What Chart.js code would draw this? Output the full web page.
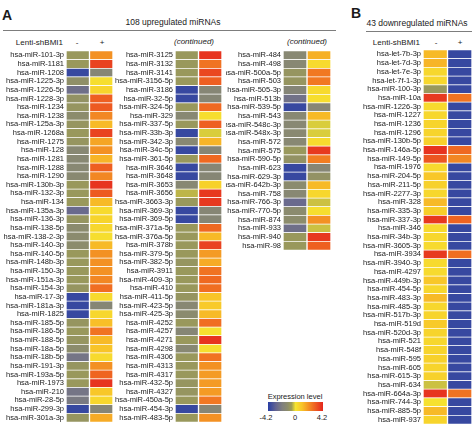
<!DOCTYPE html>
<html>
<head>
<meta charset="utf-8">
<script src="https://cdn.jsdelivr.net/npm/chart.js@4.4.1/dist/chart.umd.min.js"></script>
<style>
  body { margin: 0; background: #fff; }
  #fig { position: relative; width: 474px; height: 432px; overflow: hidden;
         font-family: "Liberation Sans", Arial, sans-serif; color: #1a1a1a; }
  #fig canvas { position: absolute; }
  .t { position: absolute; line-height: 1; white-space: nowrap; }
  .c { text-align: center; }
  .r { text-align: right; }
  .rule { position: absolute; height: 1.5px; background: #7d7d7d; }
</style>
</head>
<body>
<div id="fig">
  <div class="t" style="left:2px;top:8px;font-size:14px;font-weight:bold">A</div>
  <div class="t c" style="left:73px;top:18px;width:200px;font-size:8.5px">108 upregulated miRNAs</div>
  <div class="rule" style="left:3px;top:29.5px;width:333px"></div>
  <div class="t c" style="left:144px;top:37.5px;width:100px;font-size:8px;font-style:italic">(continued)</div>
  <div class="t c" style="left:257px;top:37.5px;width:100px;font-size:8px;font-style:italic">(continued)</div>
  <div class="t r" style="left:0;top:39px;width:63px;font-size:8px">Lenti-shBMI1</div>
  <div class="t c" style="left:67px;top:38.5px;width:20px;font-size:8px">-</div>
  <div class="t c" style="left:92px;top:38.5px;width:20px;font-size:8px">+</div>

  <div class="t" style="left:351px;top:6px;font-size:14px;font-weight:bold">B</div>
  <div class="t c" style="left:317px;top:19px;width:200px;font-size:8.5px">43 downregulated miRNAs</div>
  <div class="rule" style="left:366px;top:30.5px;width:106px"></div>
  <div class="t r" style="left:320px;top:39px;width:100px;font-size:8px">Lenti-shBMI1</div>
  <div class="t c" style="left:426px;top:38.5px;width:20px;font-size:8px">-</div>
  <div class="t c" style="left:450px;top:38.5px;width:20px;font-size:8px">+</div>

  <div class="t c" style="left:245px;top:392.5px;width:100px;font-size:7.5px">Expression level</div>
  <div id="scaleBar" style="position:absolute;left:268px;top:402px;width:55px;height:9px"></div>
  <div class="t c" style="left:251px;top:414px;width:30px;font-size:7.5px">-4.2</div>
  <div class="t c" style="left:280px;top:414px;width:30px;font-size:7.5px">0</div>
  <div class="t c" style="left:307px;top:414px;width:30px;font-size:7.5px">4.2</div>

  <canvas id="colA1" width="113" height="371" style="left:0;top:51px"></canvas>
  <canvas id="colA2" width="108" height="371" style="left:114px;top:51px"></canvas>
  <canvas id="colA3" width="105" height="199" style="left:226px;top:51px"></canvas>
  <canvas id="colB" width="132" height="374" style="left:340px;top:50px"></canvas>
</div>

<script>
// 108 upregulated miRNAs (three columns)
const namesA1 = ["hsa-miR-101-3p", "hsa-miR-1181", "hsa-miR-1208", "hsa-miR-1225-3p", "hsa-miR-1226-5p",
  "hsa-miR-1228-3p", "hsa-miR-1234", "hsa-miR-1238", "hsa-miR-125a-3p", "hsa-miR-1268a", "hsa-miR-1275",
  "hsa-miR-128", "hsa-miR-1281", "hsa-miR-1288", "hsa-miR-1290", "hsa-miR-130b-3p", "hsa-miR-132-3p",
  "hsa-miR-134", "hsa-miR-135a-3p", "hsa-miR-136-3p", "hsa-miR-138-5p", "hsa-miR-138-2-3p", "hsa-miR-140-3p",
  "hsa-miR-140-5p", "hsa-miR-148b-3p", "hsa-miR-150-3p", "hsa-miR-151a-3p", "hsa-miR-154-3p", "hsa-miR-17-3p",
  "hsa-miR-181a-3p", "hsa-miR-1825", "hsa-miR-185-5p", "hsa-miR-186-5p", "hsa-miR-188-5p", "hsa-miR-18a-5p",
  "hsa-miR-18b-5p", "hsa-miR-191-3p", "hsa-miR-193a-5p", "hsa-miR-1973", "hsa-miR-210", "hsa-miR-28-5p",
  "hsa-miR-299-3p", "hsa-miR-301a-3p"];
const minusA1 = [-0.8, -0.8, -3.9, -1.1, -2.6, -1.0, -0.9, -1.2, -0.9, -0.8, -0.9,
  -1.5, -1.5, -1.5, -1.4, -0.8, -0.8, -0.8, -2.8, -0.9, -1.3, -1.3, -1.2, -0.8, -0.8, -0.8, -0.8,
  -0.9, -3.9, -3.9, -3.9, -0.9, -0.8, -0.9, -1.2, -2.4, -0.9, -0.8, -0.8, -2.4, -2.2, -3.9, -0.9];
const plusA1 = [2.0, 3.6, -1.6, 0.2, 0.5, 3.0, 3.1, 2.2, 1.2, 3.6, 1.6,
  2.0, 1.3, 3.0, 2.2, 3.9, 3.1, 1.2, 0.3, 0.5, 0.4, 0.2, 1.2, 2.0, 2.0, 2.0, 2.2,
  2.7, 0.3, -1.6, 0.4, 1.1, 2.6, 1.2, 1.0, 0.3, 2.0, 2.9, 3.9, 0.9, 0.4, -1.7, 1.5];

const namesA2 = ["hsa-miR-3125", "hsa-miR-3132", "hsa-miR-3141", "hsa-miR-3156-5p", "hsa-miR-3186",
  "hsa-miR-32-5p", "hsa-miR-324-5p", "hsa-miR-329", "hsa-miR-337-5p", "hsa-miR-33b-3p", "hsa-miR-342-3p",
  "hsa-miR-34c-5p", "hsa-miR-361-5p", "hsa-miR-3646", "hsa-miR-3648", "hsa-miR-3653", "hsa-miR-3656",
  "hsa-miR-3663-3p", "hsa-miR-369-3p", "hsa-miR-369-5p", "hsa-miR-371a-5p", "hsa-miR-376a-5p", "hsa-miR-378b",
  "hsa-miR-379-5p", "hsa-miR-382-5p", "hsa-miR-3911", "hsa-miR-409-3p", "hsa-miR-410", "hsa-miR-411-5p",
  "hsa-miR-423-5p", "hsa-miR-425-3p", "hsa-miR-4252", "hsa-miR-4257", "hsa-miR-4271", "hsa-miR-4298",
  "hsa-miR-4306", "hsa-miR-4313", "hsa-miR-4317", "hsa-miR-432-5p", "hsa-miR-4327", "hsa-miR-450a-5p",
  "hsa-miR-454-3p", "hsa-miR-483-5p"];
const minusA2 = [-0.8, -0.8, -0.8, -0.8, -3.9, -3.9, -0.8, -1.5, -0.8, -3.9, -1.5,
  -3.9, -0.8, -3.9, -3.9, -1.5, -0.4, -0.8, -3.9, -3.9, -0.8, -0.8, -0.8, -0.8, -0.9, -0.8, -0.8,
  -0.8, -0.9, -1.5, -1.3, -0.8, -1.6, -0.8, -1.5, -0.8, -0.8, -0.8, -0.9, -0.9, -0.8, -3.9, -0.8];
const plusA2 = [3.9, 2.6, 3.5, 3.0, -1.6, -1.6, 2.8, 0.2, 3.0, -0.2, 1.3,
  -1.6, 2.8, -1.6, -1.6, 0.6, 3.8, 3.8, -1.6, -1.6, 2.8, 1.2, 3.6, 1.8, 1.5, 2.6, 2.8,
  2.7, 1.0, 0.8, 1.2, 2.7, 0.1, 3.9, 0.2, 2.6, 2.0, 1.8, 1.8, 1.8, 2.5, -1.6, 2.0];

const namesA3 = ["hsa-miR-484", "hsa-miR-498", "hsa-miR-500a-5p", "hsa-miR-503", "hsa-miR-505-3p",
  "hsa-miR-513b", "hsa-miR-539-5p", "hsa-miR-543", "hsa-miR-548c-3p", "hsa-miR-548x-3p", "hsa-miR-572",
  "hsa-miR-575", "hsa-miR-590-5p", "hsa-miR-623", "hsa-miR-629-3p", "hsa-miR-642b-3p", "hsa-miR-758",
  "hsa-miR-766-3p", "hsa-miR-770-5p", "hsa-miR-874", "hsa-miR-933", "hsa-miR-940", "hsa-miR-98"];
const minusA3 = [-1.5, -1.5, -0.9, -0.9, -1.7, -2.5, -3.9, -1.5, -1.5, -1.4, -1.5,
  -0.8, -1.0, -3.9, -3.9, -1.3, -1.5, -2.8, -1.3, -1.2, -2.6, -0.8, -0.8];
const plusA3 = [1.4, 0.3, 2.5, 2.5, 0.3, 0.2, -1.6, 1.2, -0.2, -0.2, 0.3,
  3.8, 2.4, -1.6, -1.0, 1.2, 0.4, -0.3, 0.2, 2.0, -0.3, 3.8, 3.0];

// 43 downregulated miRNAs
const namesB = ["hsa-let-7b-3p", "hsa-let-7d-3p", "hsa-let-7e-3p", "hsa-let-7f-1-3p", "hsa-miR-100-3p",
  "hsa-miR-10a", "hsa-miR-1226-3p", "hsa-miR-1227", "hsa-miR-1236", "hsa-miR-1296", "hsa-miR-130b-5p",
  "hsa-miR-146a-5p", "hsa-miR-149-5p", "hsa-miR-1976", "hsa-miR-204-5p", "hsa-miR-211-5p", "hsa-miR-2277-3p",
  "hsa-miR-328", "hsa-miR-335-3p", "hsa-miR-337-3p", "hsa-miR-346", "hsa-miR-34b-3p", "hsa-miR-3605-3p",
  "hsa-miR-3934", "hsa-miR-3940-3p", "hsa-miR-4297", "hsa-miR-449b-3p", "hsa-miR-454-5p", "hsa-miR-483-3p",
  "hsa-miR-485-3p", "hsa-miR-517b-3p", "hsa-miR-519d", "hsa-miR-520d-3p", "hsa-miR-521", "hsa-miR-548f",
  "hsa-miR-595", "hsa-miR-605", "hsa-miR-615-3p", "hsa-miR-634", "hsa-miR-664a-3p", "hsa-miR-744-3p",
  "hsa-miR-885-5p", "hsa-miR-937"];
const minusB = [1.2, 1.3, 0.4, 0.4, -0.8, 3.8, 0.3, 0.4, 0.5, 0.5, 0.6,
  3.9, 3.2, 0.3, 0.9, 0.6, 0.4, 1.2, 0.7, 3.8, 0.3, 0.4, 0.3, 3.8, 0.3, 0.3,
  0.9, 0.4, 1.2, 0.4, 0.5, 0.8, 0.5, 0.4, 0.5, 0.6, 0.5, 0.6, -0.3, 3.9, 0.1, 1.2, 0.5];
const plusB = [-3.9, -3.9, -3.9, -3.9, -3.9, 2.6, -3.9, -3.9, -3.9, -3.9, -3.9,
  2.8, 2.2, -3.9, -3.9, -3.9, -3.9, -3.9, -3.9, 2.9, -3.9, -3.9, -3.9, 2.7, -3.9, -3.9,
  -3.9, -3.9, -3.9, -3.9, -3.9, -3.9, -3.9, -3.9, -3.9, -3.9, -3.9, -3.9, -3.9, 2.6, -3.9, -3.9, -3.9];

// colour scale, -4.2 (blue) .. 0 (yellow) .. 4.2 (red)
const colorStops = [
  [-4.2, [40, 62, 165]], [-3.0, [100, 100, 145]], [-2.0, [128, 128, 126]],
  [-1.2, [140, 140, 108]], [-0.6, [160, 158, 84]], [0, [246, 228, 48]],
  [1.0, [248, 196, 40]], [2.0, [243, 145, 35]], [3.0, [238, 95, 33]], [4.2, [228, 38, 30]],
];

function colorFor(v) {
  if (v <= colorStops[0][0]) return `rgb(${colorStops[0][1].join(",")})`;
  for (let i = 1; i < colorStops.length; i++) {
    const [v1, c1] = colorStops[i];
    if (v <= v1) {
      const [v0, c0] = colorStops[i - 1];
      const t = (v - v0) / (v1 - v0);
      const c = c0.map((a, k) => Math.round(a + (c1[k] - a) * t));
      return `rgb(${c.join(",")})`;
    }
  }
  return `rgb(${colorStops[colorStops.length - 1][1].join(",")})`;
}

// legend bar
document.getElementById("scaleBar").style.background =
  "linear-gradient(to right, " +
  colorStops.map(([v, c]) => `rgb(${c.join(",")}) ${((v + 4.2) / 8.4) * 100}%`).join(", ") + ")";

function heatColumn(id, names, minus, plus, axisWidth) {
  new Chart(document.getElementById(id), {
    type: "bar",
    data: {
      labels: names,
      datasets: [
        { label: "-", data: minus.map(() => [0, 1]), backgroundColor: minus.map(colorFor) },
        { label: "+", data: plus.map(() => [1, 2]), backgroundColor: plus.map(colorFor) },
      ],
    },
    options: {
      indexAxis: "y",
      responsive: false,
      animation: false,
      grouped: false,
      datasets: {
        bar: {
          grouped: false,
          barPercentage: 1,
          categoryPercentage: 1,
          borderColor: "#ffffff",
          borderWidth: { top: 0.7, bottom: 0.7, left: 1, right: 1 },
          borderSkipped: false,
        },
      },
      plugins: {
        legend: { display: false },
        tooltip: { enabled: false },
      },
      scales: {
        x: { type: "linear", min: 0, max: 2, display: false },
        y: {
          grid: { display: false, drawTicks: false },
          border: { display: false },
          ticks: {
            autoSkip: false,
            padding: 2,
            color: "#1a1a1a",
            font: { family: "'Liberation Sans', Arial, sans-serif", size: 7.5 },
          },
          afterFit(scale) {
            scale.width = axisWidth;
            scale.paddingTop = 0;
            scale.paddingBottom = 0;
          },
        },
      },
    },
  });
}

heatColumn("colA1", namesA1, minusA1, plusA1, 66);
heatColumn("colA2", namesA2, minusA2, plusA2, 61);
heatColumn("colA3", namesA3, minusA3, plusA3, 57);
heatColumn("colB", namesB, minusB, plusB, 83);
</script>
</body>
</html>
